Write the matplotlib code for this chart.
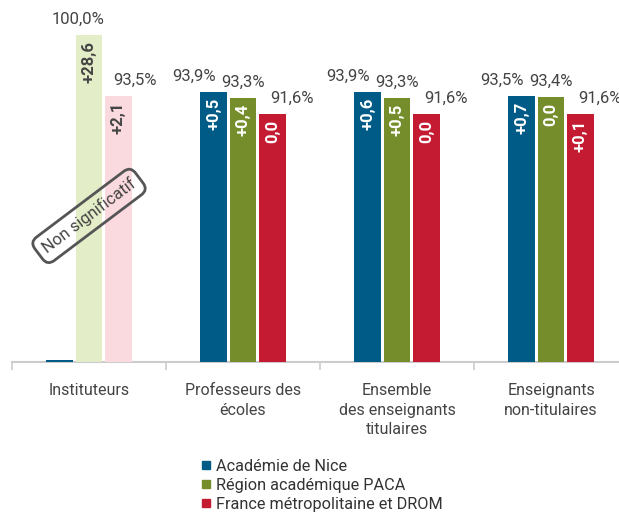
import numpy as np
import matplotlib
matplotlib.use("Agg")
import matplotlib.pyplot as plt
from matplotlib.lines import Line2D

plt.rcParams["font.family"] = ["Roboto", "DejaVu Sans"]

# ---------------------------
# data
# ---------------------------
categories = ["Instituteurs", "Professeurs des\nécoles",
              "Ensemble\ndes enseignants\ntitulaires", "Enseignants\nnon-titulaires"]
series_names = ["Académie de Nice", "Région académique PACA", "France métropolitaine et DROM"]

nice = [65.5, 93.9, 93.9, 93.5]      # instituteurs: no real bar, just a sliver
paca = [100.0, 93.3, 93.3, 93.4]
france = [93.5, 91.6, 91.6, 91.6]

nice_top = ["", "93,9%", "93,9%", "93,5%"]
paca_top = ["100,0%", "93,3%", "93,3%", "93,4%"]
france_top = ["93,5%", "91,6%", "91,6%", "91,6%"]

nice_diff = ["", "+0,5", "+0,6", "+0,7"]
paca_diff = ["+28,6", "+0,4", "+0,5", "0,0"]
france_diff = ["+2,1", "0,0", "0,0", "+0,1"]

colors = ["#005b87", "#758e2b", "#c41a32"]
pale_colors = ["#005b87", "#e3edc8", "#fadadf"]   # non significant group
text_color = "#444444"

# ---------------------------
# figure / axes placed to match the reference pixels
# ---------------------------
W, H = 619, 519
fig = plt.figure(figsize=(W / 100, H / 100), dpi=100)
ax = fig.add_axes([12 / W, (H - 362) / H, 616 / W, 327 / H])

x = np.arange(len(categories))
width = 0.175
step = 0.19
base = 65.3
values = [nice, paca, france]
tops = [nice_top, paca_top, france_top]
diffs = [nice_diff, paca_diff, france_diff]
label_dx = [-14, 0, 14]  # points, value labels pushed apart so they don't overlap

for i in range(3):
    xs = x + (i - 1) * step
    for j in range(len(categories)):
        col = pale_colors[i] if j == 0 else colors[i]
        ax.bar(xs[j], values[i][j] - base, bottom=base, width=width,
               color=col, edgecolor="none", zorder=3, clip_on=False)
        if tops[i][j]:
            dx = label_dx[i]
            if j == 0 and i == 1:
                dx = -8
            if j == 0 and i == 2:
                dx = 12
            ax.annotate(tops[i][j], (xs[j], values[i][j]), xytext=(dx, 6),
                        textcoords="offset points", ha="center", va="bottom",
                        fontsize=12, color=text_color)
        if diffs[i][j]:
            ax.annotate(diffs[i][j], (xs[j], values[i][j]), xytext=(0, -4),
                        textcoords="offset points", ha="center", va="top",
                        rotation=90, fontsize=12, fontweight="bold",
                        color=text_color if j == 0 else "white", zorder=4)

ax.text(0, 80.8, "Non significatif", rotation=37, ha="center", va="center",
        fontsize=12, color=text_color, zorder=5,
        bbox=dict(boxstyle="round,pad=0.4,rounding_size=0.5", fc="none",
                  ec="#555555", lw=2))

ax.set_xlim(-0.5, 3.5)
ax.set_ylim(base, 100)
ax.set_yticks([])
for s in ["top", "right", "left"]:
    ax.spines[s].set_visible(False)
ax.spines["bottom"].set_color("#cccccc")
ax.spines["bottom"].set_linewidth(1.5)
ax.spines["bottom"].set_zorder(1)

ax.set_xticks(x)
ax.set_xticklabels(categories, fontsize=11.5, color=text_color, linespacing=1.4)
ax.tick_params(axis="x", which="major", length=0, pad=15)
ax.set_xticks(np.arange(-0.5, 3.5, 1), minor=True)
ax.tick_params(axis="x", which="minor", length=6, color="#cccccc", width=1.2)

handles = [Line2D([], [], marker="s", ls="", color=c, markersize=6) for c in colors]
fig.legend(handles, series_names, loc="upper left", bbox_to_anchor=(196 / W, 1 - 459 / H),
           frameon=False, fontsize=11.7, handletextpad=0.0, handlelength=1.2,
           labelspacing=0.25, borderaxespad=0, borderpad=0, labelcolor="#333333")

fig.savefig("out.png", dpi=100)
